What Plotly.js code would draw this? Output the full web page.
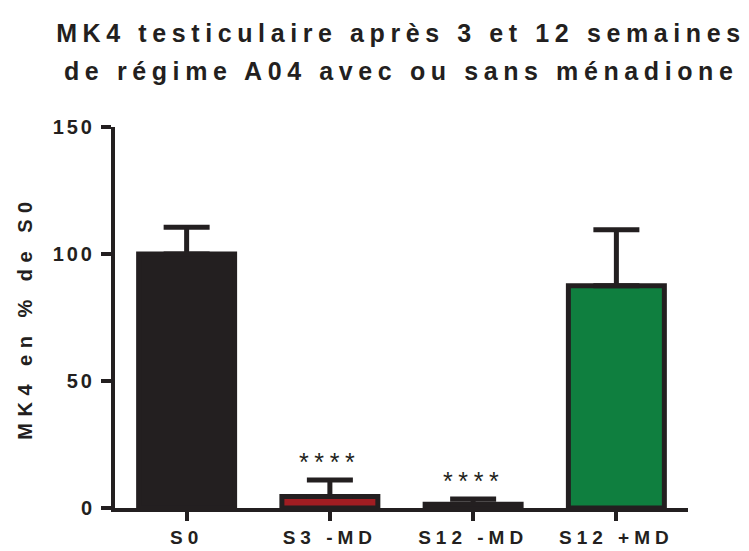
<!DOCTYPE html>
<html>
<head>
<meta charset="utf-8">
<script src="https://cdn.plot.ly/plotly-3.0.1.min.js"></script>
<style>
  html, body { margin: 0; padding: 0; background: #fff; }
  #chart { width: 749px; height: 551px; }
  .gtitle, .annotation-text { letter-spacing: 5.6px; }
  .xtick text { letter-spacing: 5px; }
  .ytick text { letter-spacing: 3px; }
  .ytitle { letter-spacing: 6.5px; }
</style>
</head>
<body>
<div id="chart"></div>
<script>
// ---- data ----
const categories = ['S0', 'S3 -MD', 'S12 -MD', 'S12 +MD'];
const means = [100, 4.5, 1.5, 87.5];
const sem = [10.5, 6.5, 2, 22];
const stars = ['', '****', '****', ''];
const yTickVals = [0, 50, 100, 150];
const titleLine1 = 'MK4 testiculaire après 3 et 12 semaines';
const titleLine2 = 'de régime A04 avec ou sans ménadione';
const yTitle = 'MK4 en % de S0';

// ---- styles ----
const dark = '#231f20';
const fills = ['#231f20', '#a11d22', '#231f20', '#0f7f3f'];
const fontFam = '"Liberation Sans", Arial, Helvetica, sans-serif';

const trace = {
  type: 'bar',
  x: categories,
  y: means,
  marker: { color: fills, line: { color: dark, width: 5 } },
  error_y: {
    type: 'data', array: sem, arrayminus: sem.map(() => 0), symmetric: false,
    color: dark, thickness: 5, width: 23
  },
  hoverinfo: 'skip'
};

const annotations = [];
categories.forEach((c, i) => {
  if (stars[i]) {
    annotations.push({
      x: c, y: means[i] + sem[i] + 7, xref: 'x', yref: 'y',
      text: stars[i], showarrow: false, yanchor: 'middle',
      font: { family: fontFam, size: 25, color: dark }
    });
  }
});
annotations.push({
  x: 0.499, y: 1.148, xref: 'paper', yref: 'paper',
  text: titleLine2, showarrow: false, yanchor: 'middle', xanchor: 'center',
  font: { family: fontFam, size: 25, weight: 'bold', color: dark }
});

const layout = {
  width: 749, height: 551,
  margin: { l: 115, r: 61, t: 127, b: 43, pad: 0 },
  paper_bgcolor: '#fff', plot_bgcolor: '#fff',
  bargap: 0.33,
  showlegend: false,
  title: {
    text: titleLine1,
    font: { family: fontFam, size: 25, weight: 'bold', color: dark },
    x: 0.499, xref: 'paper', xanchor: 'center',
    y: 1 - 33 / 551, yref: 'container', yanchor: 'middle'
  },
  xaxis: {
    type: 'category', range: [-0.5, 3.5],
    showline: true, linecolor: dark, linewidth: 4,
    ticks: 'outside', ticklen: 9, tickwidth: 4, tickcolor: dark,
    ticklabelstandoff: 0,
    showgrid: false, zeroline: false,
    tickfont: { family: fontFam, size: 19, weight: 'bold', color: dark }
  },
  yaxis: {
    range: [0, 150], tickvals: yTickVals,
    showline: true, linecolor: dark, linewidth: 4,
    ticks: 'outside', ticklen: 10, tickwidth: 4, tickcolor: dark,
    ticklabelstandoff: 2,
    showgrid: false, zeroline: false,
    tickfont: { family: fontFam, size: 20, weight: 'bold', color: dark },
    title: { text: yTitle, standoff: 16, font: { family: fontFam, size: 20, weight: 'bold', color: dark } }
  },
  annotations: annotations
};

Plotly.newPlot('chart', [trace], layout, { displayModeBar: false, staticPlot: true });
</script>
</body>
</html>
